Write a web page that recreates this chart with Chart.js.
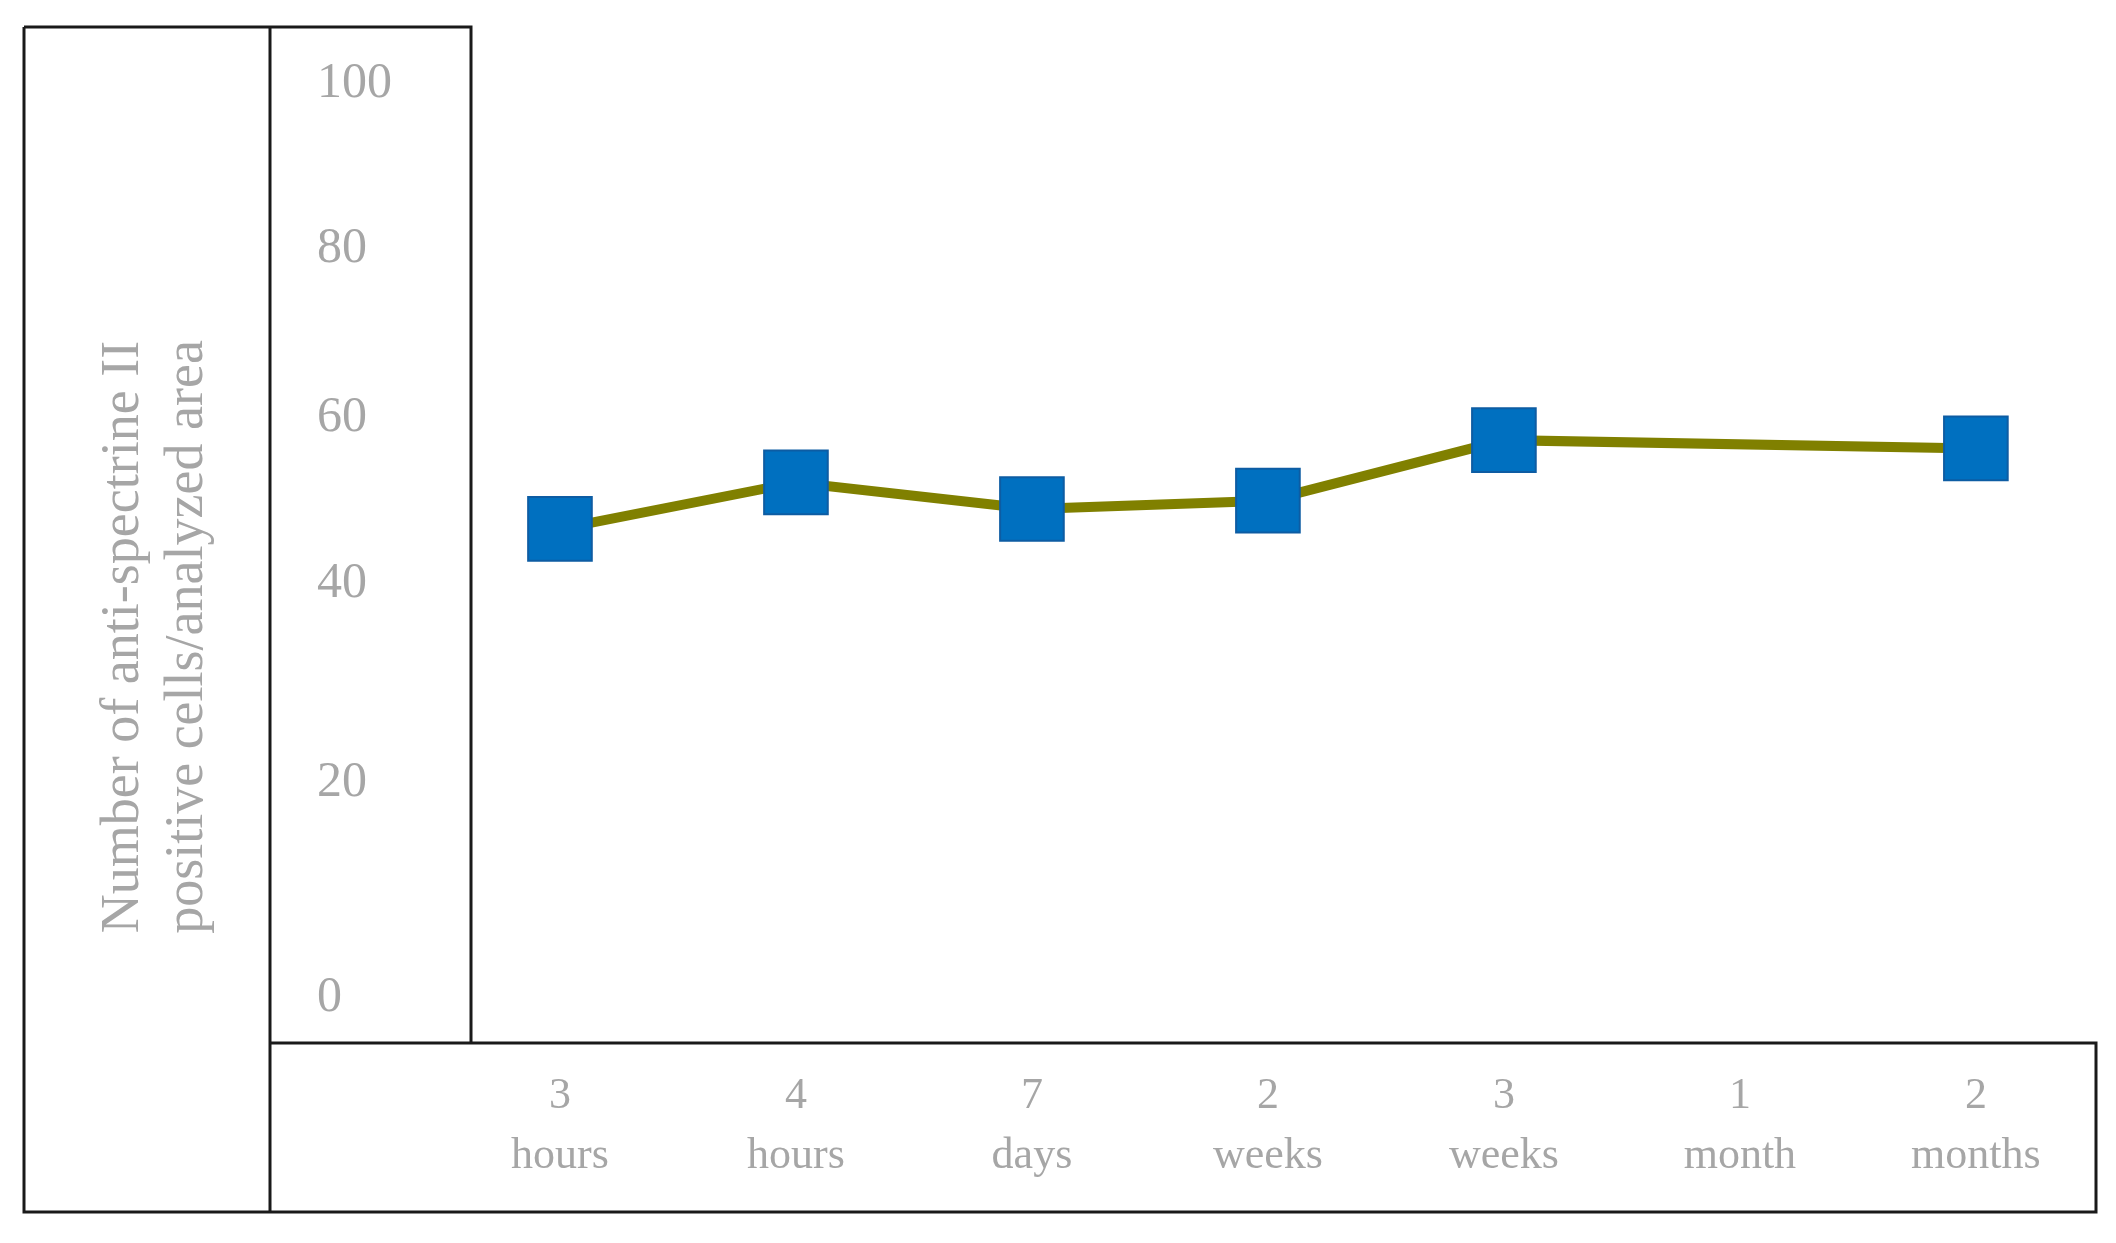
<!DOCTYPE html>
<html>
<head>
<meta charset="utf-8">
<script src="https://cdn.jsdelivr.net/npm/chart.js@4.4.1/dist/chart.umd.min.js"></script>
<style>
  html, body { margin: 0; padding: 0; background: #fff; overflow: hidden; }
  #wrap { width: 2116px; height: 1243px; }
</style>
</head>
<body>
<div id="wrap"><canvas id="spectrinChart"></canvas></div>
<script>
var timeLabels = [['3', 'hours'], ['4', 'hours'], ['7', 'days'], ['2', 'weeks'], ['3', 'weeks'], ['1', 'month'], ['2', 'months']];
var cellCounts = [46.6, 52.2, 49.0, 50.0, 57.3, null, 56.3];
var yTicks = [0, 20, 40, 60, 80, 100];
var yTitle = ['Number of anti-spectrine II', 'positive cells/analyzed area'];

// the printed y axis is not evenly spaced: value -> fraction of axis height
var yStops = [[0, 0.047], [20, 0.271], [40, 0.479], [60, 0.652], [80, 0.828], [100, 1]];

function toDecimal(v) {
  for (var i = 1; i < yStops.length; i++) {
    var a = yStops[i - 1], b = yStops[i];
    if (v <= b[0] || i === yStops.length - 1) {
      return a[1] + (v - a[0]) / (b[0] - a[0]) * (b[1] - a[1]);
    }
  }
}
function fromDecimal(d) {
  for (var i = 1; i < yStops.length; i++) {
    var a = yStops[i - 1], b = yStops[i];
    if (d <= b[1] || i === yStops.length - 1) {
      return a[0] + (d - a[1]) / (b[1] - a[1]) * (b[0] - a[0]);
    }
  }
}

class StopScale extends Chart.LinearScale {
  getPixelForValue(value) {
    if (value === null || value === undefined || isNaN(value)) return NaN;
    return this.getPixelForDecimal(toDecimal(value));
  }
  getValueForPixel(pixel) {
    return fromDecimal(this.getDecimalForPixel(pixel));
  }
}
StopScale.id = 'stops';
StopScale.defaults = Chart.LinearScale.defaults;
Chart.register(StopScale);

var serif = '"Liberation Serif", "Times New Roman", serif';
var grey = '#a6a6a6';

// boxes round the panels + the rotated y title
var framePlugin = {
  id: 'frame',
  afterDraw: function (chart) {
    var c = chart.ctx, a = chart.chartArea;
    var outerLeft = 24, top = 27, split = 270, bottom = 1212;
    c.save();
    c.strokeStyle = '#1a1a1a';
    c.lineWidth = 3;
    c.beginPath();
    c.moveTo(outerLeft, top); c.lineTo(a.left, top); c.lineTo(a.left, a.bottom);
    c.moveTo(outerLeft, top); c.lineTo(outerLeft, bottom); c.lineTo(a.right, bottom);
    c.lineTo(a.right, a.bottom); c.lineTo(split, a.bottom);
    c.moveTo(split, top); c.lineTo(split, bottom);
    c.stroke();

    c.fillStyle = grey;
    c.font = '54px ' + serif;
    c.textAlign = 'center';
    c.textBaseline = 'alphabetic';
    c.translate(138, 637);
    c.rotate(-Math.PI / 2);
    yTitle.forEach(function (t, i) { c.fillText(t, 0, i * 64); });
    c.restore();
  }
};

var ctx = document.getElementById('spectrinChart');
new Chart(ctx, {
  type: 'line',
  data: {
    datasets: [{
      data: cellCounts.map(function (v, i) { return { x: i, y: v }; }),
      borderColor: '#808000',
      borderWidth: 10,
      tension: 0,
      spanGaps: true,
      clip: false,
      pointStyle: 'rect',
      pointRadius: 45,
      pointHoverRadius: 45,
      pointBackgroundColor: '#0070c0',
      pointBorderColor: '#0d5ca3',
      pointBorderWidth: 2
    }]
  },
  options: {
    responsive: true,
    maintainAspectRatio: false,
    animation: false,
    layout: { autoPadding: false, padding: { left: 317, top: 84, right: 20, bottom: 31 } },
    plugins: { legend: { display: false }, tooltip: { enabled: false } },
    scales: {
      x: {
        type: 'linear',
        min: -0.377,
        max: 6.509,
        grid: { display: false, drawTicks: false },
        border: { display: false },
        afterBuildTicks: function (s) { s.ticks = timeLabels.map(function (_, i) { return { value: i }; }); },
        afterFit: function (s) { s.height = 169; s.paddingLeft = 0; s.paddingRight = 0; },
        ticks: {
          autoSkip: false,
          maxRotation: 0,
          padding: 24,
          color: grey,
          font: { family: serif, size: 44, lineHeight: 1.35 },
          callback: function (v, i) { return timeLabels[i]; }
        }
      },
      y: {
        type: 'stops',
        min: 0,
        max: 100,
        grid: { display: false, drawTicks: false },
        border: { display: false },
        afterBuildTicks: function (s) { s.ticks = yTicks.map(function (v) { return { value: v }; }); },
        afterFit: function (s) { s.width = 154; s.paddingTop = 0; s.paddingBottom = 0; },
        ticks: {
          crossAlign: 'far',
          color: grey,
          font: { family: serif, size: 50 }
        }
      }
    }
  },
  plugins: [framePlugin]
});
</script>
</body>
</html>
